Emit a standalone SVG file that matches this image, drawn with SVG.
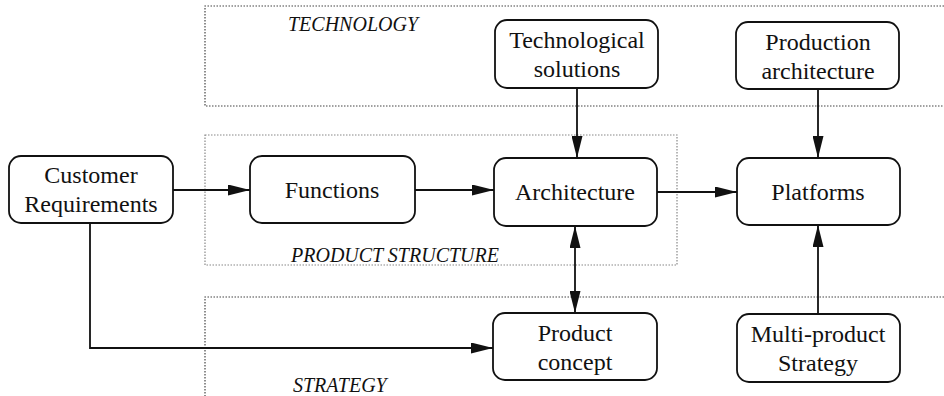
<svg xmlns="http://www.w3.org/2000/svg" width="944" height="396" viewBox="0 0 944 396" font-family="Liberation Serif, Times New Roman, Times, serif">
<style>
.zone{fill:none;stroke:#444;stroke-width:1.2;stroke-dasharray:1.5 1.5}
.zone2{fill:none;stroke:#888;stroke-width:1.2;stroke-dasharray:1.5 1.5}
.node rect{fill:#fff;stroke:#111;stroke-width:1.8}
.node text{font-size:24px;fill:#111;text-anchor:middle}
.lbl{font-size:20px;font-style:italic;fill:#111}
.conn{fill:none;stroke:#111;stroke-width:1.8}
</style>
<defs>
<marker id="ah" viewBox="0 0 22 11" refX="22" refY="5.5" markerWidth="22" markerHeight="11" markerUnits="userSpaceOnUse" orient="auto-start-reverse">
<path d="M0,0 L22,5.5 L0,11 z" fill="#111"/>
</marker>
</defs>
<rect width="944" height="396" fill="#fff"/>
<g id="zones">
<path class="zone" d="M950,6 H205 V106 H950"/>
<rect class="zone2" x="205" y="135" width="472" height="130"/>
<path class="zone" d="M950,297 H205 V400"/>
<text class="lbl" x="288" y="31">TECHNOLOGY</text>
<text class="lbl" x="291" y="262">PRODUCT STRUCTURE</text>
<text class="lbl" x="293" y="392">STRATEGY</text>
</g>
<g id="connectors">
<path class="conn" d="M173,190 H250" marker-end="url(#ah)"/>
<path class="conn" d="M415,190 H494" marker-end="url(#ah)"/>
<path class="conn" d="M657,192 H737" marker-end="url(#ah)"/>
<path class="conn" d="M577,88 V158" marker-end="url(#ah)"/>
<path class="conn" d="M818,89 V158" marker-end="url(#ah)"/>
<path class="conn" d="M575,226 V313" marker-start="url(#ah)" marker-end="url(#ah)"/>
<path class="conn" d="M818,314 V225" marker-end="url(#ah)"/>
<path class="conn" d="M90,223 V348 H493" marker-end="url(#ah)"/>
</g>
<g id="customer" class="node"><rect x="9" y="156" width="164" height="67" rx="12"/><text x="91" y="183">Customer</text><text x="91" y="212">Requirements</text></g>
<g id="functions" class="node"><rect x="250" y="156" width="165" height="67" rx="12"/><text x="332" y="198">Functions</text></g>
<g id="architecture" class="node"><rect x="494" y="158" width="163" height="68" rx="12"/><text x="575" y="200">Architecture</text></g>
<g id="platforms" class="node"><rect x="737" y="158" width="163" height="67" rx="12"/><text x="818" y="200">Platforms</text></g>
<g id="techsol" class="node"><rect x="495" y="20" width="163" height="68" rx="12"/><text x="577" y="48">Technological</text><text x="577" y="77">solutions</text></g>
<g id="prodarch" class="node"><rect x="736" y="22" width="163" height="67" rx="12"/><text x="818" y="50">Production</text><text x="818" y="79">architecture</text></g>
<g id="prodconcept" class="node"><rect x="493" y="313" width="164" height="67" rx="12"/><text x="575" y="341">Product</text><text x="575" y="370">concept</text></g>
<g id="multiprod" class="node"><rect x="737" y="314" width="163" height="68" rx="12"/><text x="818" y="342">Multi-product</text><text x="818" y="371">Strategy</text></g>
</svg>
